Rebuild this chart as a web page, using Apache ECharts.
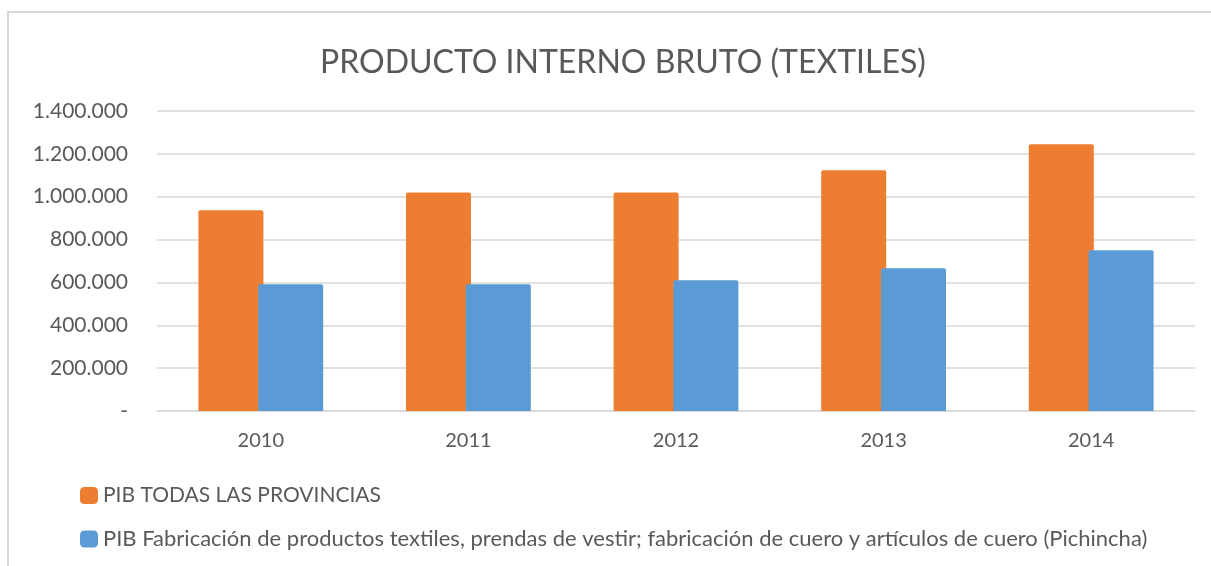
<!DOCTYPE html>
<html>
<head>
<meta charset="utf-8">
<title>PIB textiles</title>
<script src="https://cdn.jsdelivr.net/npm/echarts@6/dist/echarts.min.js"></script>
<style>
  html, body { margin: 0; padding: 0; background: #fff; }
  #chart { width: 1211px; height: 566px; }
</style>
</head>
<body>
<div id="chart"></div>
<script>
// datos
const years = ["2010", "2011", "2012", "2013", "2014"];
const pibTotal = [937000, 1020000, 1020000, 1123000, 1245000];
const pibPichincha = [591000, 591000, 610000, 666000, 750000];
const seriesNames = [
  "PIB TODAS LAS PROVINCIAS",
  "PIB Fabricación de productos textiles, prendas de vestir; fabricación de cuero y artículos de cuero (Pichincha)"
];
const colors = ["#ED7D31", "#5B9BD5"];

const FONT = "Lato";
const TEXT = "#595959";

function fmtMiles(v) {
  if (v === 0) return "-";
  return String(v).replace(/\B(?=(\d{3})+(?!\d))/g, ".");
}

function legendRow(name, top, size) {
  return {
    data: [name],
    left: 80,
    top: top,
    padding: 0,
    icon: "roundRect",
    itemWidth: 18,
    itemHeight: 17,
    itemGap: 0,
    textStyle: { fontFamily: FONT, fontSize: size, color: TEXT }
  };
}

const chart = echarts.init(document.getElementById("chart"));

chart.setOption({
  animation: false,
  textStyle: { fontFamily: FONT },
  title: {
    text: "PRODUCTO INTERNO BRUTO (TEXTILES)",
    left: 315,
    top: 42,
    textStyle: {
      fontFamily: FONT,
      fontSize: 32,
      fontWeight: "normal",
      color: TEXT
    }
  },
  graphic: [
    {
      type: "rect",
      shape: { x: 8, y: 12, width: 1260, height: 620 },
      style: { fill: "none", stroke: "#d9d9d9", lineWidth: 2 },
      silent: true
    }
  ],
  legend: [
    legendRow(seriesNames[0], 485, 21),
    legendRow(seriesNames[1], 528, 22)
  ],
  grid: {
    left: 157,
    right: 16,
    top: 111,
    bottom: 155,
    containLabel: false
  },
  xAxis: {
    type: "category",
    data: years,
    axisLine: { show: true, lineStyle: { color: "#d9d9d9", width: 1.5 } },
    axisTick: { show: false },
    axisLabel: {
      color: TEXT,
      fontFamily: FONT,
      fontSize: 20,
      margin: 20
    }
  },
  yAxis: {
    type: "value",
    min: 0,
    max: 1400000,
    interval: 200000,
    axisLine: { show: false },
    axisTick: { show: false },
    splitLine: { lineStyle: { color: "#d9d9d9", width: 1.5 } },
    axisLabel: {
      color: TEXT,
      fontFamily: FONT,
      fontSize: 21,
      margin: 29,
      formatter: fmtMiles
    }
  },
  series: [
    {
      name: seriesNames[0],
      type: "bar",
      data: pibTotal,
      barWidth: 65,
      barGap: "-8%",
      itemStyle: { color: colors[0], borderRadius: [2, 2, 0, 0] }
    },
    {
      name: seriesNames[1],
      type: "bar",
      data: pibPichincha,
      barWidth: 65,
      barGap: "-8%",
      itemStyle: { color: colors[1], borderRadius: [2, 2, 0, 0] }
    }
  ]
});
</script>
</body>
</html>
